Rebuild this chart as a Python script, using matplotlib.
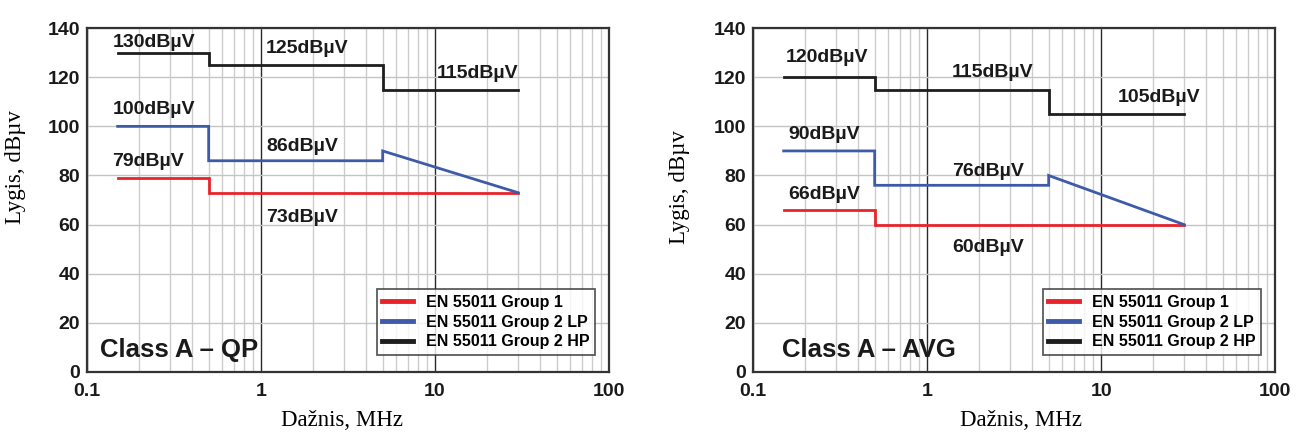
import matplotlib
matplotlib.use('Agg')
import matplotlib.pyplot as plt
from matplotlib.ticker import LogLocator, FixedLocator, NullFormatter

plt.rcParams['font.family'] = ['Liberation Sans', 'DejaVu Sans']

# Limit lines (frequency in MHz, level in dBuV)
qp_g1_f = [0.15, 0.5, 0.5, 30]
qp_g1 = [79, 79, 73, 73]
qp_lp_f = [0.15, 0.5, 0.5, 5, 5, 30]
qp_lp = [100, 100, 86, 86, 90, 73]
qp_hp_f = [0.15, 0.5, 0.5, 5, 5, 30]
qp_hp = [130, 130, 125, 125, 115, 115]

avg_g1_f = [0.15, 0.5, 0.5, 30]
avg_g1 = [66, 66, 60, 60]
avg_lp_f = [0.15, 0.5, 0.5, 5, 5, 30]
avg_lp = [90, 90, 76, 76, 80, 60]
avg_hp_f = [0.15, 0.5, 0.5, 5, 5, 30]
avg_hp = [120, 120, 115, 115, 105, 105]

series_names = ['EN 55011 Group 1', 'EN 55011 Group 2 LP', 'EN 55011 Group 2 HP']
colors = ['#e8232b', '#3d5ba9', '#1e1e1e']

y_ticks = [0, 20, 40, 60, 80, 100, 120, 140]
x_ticks = [0.1, 1, 10, 100]
x_ticklabels = ['0.1', '1', '10', '100']

# level labels: (level, x, y-offset)
qp_notes = [(130, 0.14, 4.3), (125, 1.07, 6.9), (115, 10.2, 6.7),
            (100, 0.14, 7.0), (86, 1.07, 6.0), (79, 0.14, 6.5), (73, 1.07, -10.3)]
avg_notes = [(120, 0.155, 8.2), (115, 1.39, 7.0), (105, 12.5, 6.9),
             (90, 0.16, 6.8), (76, 1.39, 5.8), (66, 0.16, 6.4), (60, 1.39, -9.5)]

fig = plt.figure(figsize=(12.97, 4.33), dpi=100)
ax_qp = fig.add_axes([0.0671, 0.141, 0.4025, 0.794])
ax_avg = fig.add_axes([0.5806, 0.141, 0.4025, 0.794])


def draw_panel(ax, lines, notes, title, title_x, ylabel_xy, xlabel_x):
    ax.set_xscale('log')
    ax.set_xlim(0.1, 100)
    ax.set_ylim(0, 140)

    # grid: light minor decades, dark major decades
    ax.xaxis.set_major_locator(FixedLocator(x_ticks))
    ax.xaxis.set_minor_locator(LogLocator(base=10, subs=range(2, 10)))
    ax.xaxis.set_minor_formatter(NullFormatter())
    ax.set_xticklabels(x_ticklabels)
    ax.yaxis.set_major_locator(FixedLocator(y_ticks))
    ax.grid(True, which='minor', axis='x', color='#cccccc', lw=1.0)
    ax.grid(True, which='major', axis='y', color='#c4c4c4', lw=1.0)
    ax.grid(True, which='major', axis='x', color='#2a2a2a', lw=1.0)
    ax.set_axisbelow(True)
    ax.tick_params(which='both', length=0)
    ax.tick_params(axis='y', pad=5)
    ax.tick_params(axis='x', pad=8)
    for lab in ax.get_xticklabels() + ax.get_yticklabels():
        lab.set_fontsize(14)
        lab.set_fontweight('bold')
        lab.set_color('#1a1a1a')
    for sp in ax.spines.values():
        sp.set_color('#333333')
        sp.set_linewidth(1.6)

    handles = []
    for (f, v), c, name in zip(lines, colors, series_names):
        h, = ax.plot(f, v, color=c, lw=2.0, label=name, solid_joinstyle='miter')
        handles.append(h)

    for level, x, dy in notes:
        ax.text(x, level + dy, f'{level}dBµV', fontsize=14, fontweight='bold',
                color='#1a1a1a', ha='left', va='center')

    ax.text(title_x, 9, title, fontsize=18.5, fontweight='bold',
            color='#1a1a1a', ha='left', va='center')

    leg = ax.legend(handles=handles, loc='lower right', bbox_to_anchor=(0.988, 0.026),
                    frameon=True, fancybox=False, handlelength=1.9,
                    handletextpad=0.8, borderpad=0.35, labelspacing=0.3,
                    prop={'weight': 'bold', 'size': 11.5})
    leg.get_frame().set_edgecolor('#333333')
    leg.get_frame().set_linewidth(1.3)
    for lh in leg.get_lines():
        lh.set_linewidth(3.5)

    ax.set_xlabel('Dažnis, MHz', family='Liberation Serif', fontsize=16.5)
    ax.set_ylabel('Lygis, dBµv', family='Liberation Serif', fontsize=16.5)
    ax.xaxis.set_label_coords(xlabel_x, -0.112)
    ax.yaxis.set_label_coords(*ylabel_xy)


draw_panel(ax_qp, [(qp_g1_f, qp_g1), (qp_lp_f, qp_lp), (qp_hp_f, qp_hp)],
           qp_notes, 'Class A – QP', 0.118, (-0.117, 0.596), 0.489)
draw_panel(ax_avg, [(avg_g1_f, avg_g1), (avg_lp_f, avg_lp), (avg_hp_f, avg_hp)],
           avg_notes, 'Class A – AVG', 0.146, (-0.121, 0.538), 0.513)

fig.savefig('out.png', dpi=100)
